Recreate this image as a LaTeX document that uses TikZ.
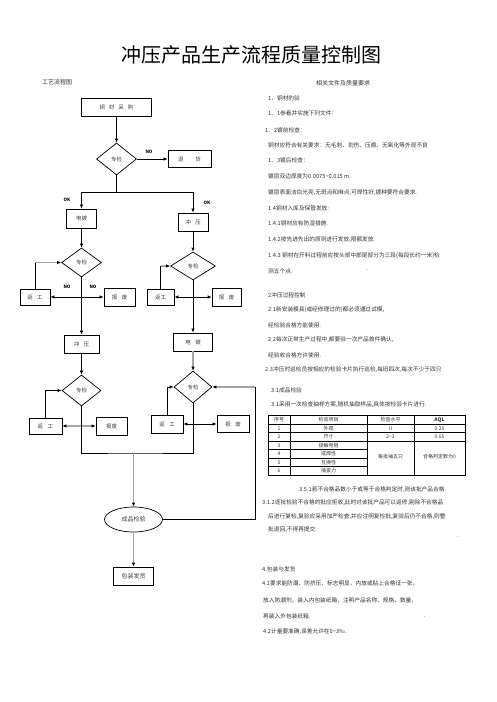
\documentclass[tikz,border=0pt]{standalone}
\usepackage{fontspec}
\setmainfont{Noto Sans CJK SC}
\usetikzlibrary{shapes.geometric,arrows.meta}

\newcommand{\bxsp}{\hspace{4.5pt}}

\tikzset{
  box/.style={draw, line width=0.8pt, inner sep=0pt, font=\fontsize{5.5}{6}\selectfont, text=black!75},
  chk/.style={diamond, draw, line width=0.7pt, inner sep=0pt, minimum width=40pt, minimum height=30pt, font=\fontsize{5.5}{6}\selectfont, text=black!75},
  flow/.style={line width=0.7pt, -{Latex[length=4pt,width=3.5pt]}},
  dflow/.style={line width=0.7pt, {Latex[length=4pt,width=3.5pt]}-{Latex[length=4pt,width=3.5pt]}},
  gflow/.style={draw=gray!70, line width=1.6pt, -{Latex[length=4pt,width=3.5pt,color=black]}},
  gdflow/.style={draw=gray!70, line width=1.6pt, {Latex[length=4pt,width=3.5pt,color=black]}-{Latex[length=4pt,width=3.5pt,color=black]}},
  thin line/.style={line width=0.7pt},
  tag/.style={font=\fontsize{4.5}{5}\selectfont\bfseries, inner sep=0pt},
  req/.style={anchor=west, inner sep=0pt, font=\fontsize{5.7}{7}\selectfont, text=black!80},
  cell/.style={inner sep=0pt, font=\fontsize{5}{6}\selectfont, text=black!80}
}

\begin{document}
\begin{tikzpicture}[x=1pt,y=-1pt]
	\useasboundingbox (0,0) rectangle (496,702);

	% Title and headings
	\node (title) at (251.5,55) {\fontsize{20}{24}\selectfont 冲压产品生产流程质量控制图};
	\node[inner sep=0pt, font=\fontsize{6}{7}\selectfont, text=black!80] (flowhead) at (57,82) {工艺流程图};
	\node[inner sep=0pt, font=\fontsize{6}{7}\selectfont, text=black!80] (reqhead) at (343,83) {相关文件及质量要求};

	% Flow chart: incoming check
	\node[box, minimum width=70pt, minimum height=18pt] (buy) at (116.5,107) {铜\hspace{4pt}材\hspace{4pt}采\hspace{4pt}购};
	\node[chk, minimum height=32pt] (chk1) at (116.5,159) {专检};
	\node[box, minimum width=43pt, minimum height=17pt] (ret) at (189.5,159) {退\hspace{12pt}货};
	\node[tag] (no1) at (149,152) {NO};
	\draw[flow] (buy) -- (chk1);
	\draw[flow] (chk1) -- (ret);

	%Split
	\coordinate (j1) at (116.5,192);
	\draw[thin line] (chk1.south) -- (j1);
	\node[box, minimum width=30pt, minimum height=19pt] (plate1) at (81.5,218.5) {电镀};
	\node[box, minimum width=30pt, minimum height=18pt] (press1) at (193,222) {冲\bxsp 压};
	\draw[flow] (j1) -| (plate1);
	\draw[flow] (j1) -| (press1);
	\node[tag] (ok1) at (67,200) {OK};
	\node[tag] (ok2) at (207,203) {OK};

	% Second checks
	\node[chk, minimum height=29pt] (chk2L) at (81.5,262.5) {专检};
	\node[chk, minimum width=45pt, minimum height=28pt] (chk2R) at (193,266) {专检};
	\draw[flow] (plate1) -- (chk2L);
	\draw[flow] (press1) -- (chk2R);

	\node[box, minimum width=30pt, minimum height=16pt] (rw2L) at (35,297) {返\bxsp 工};
	\node[box, minimum width=31pt, minimum height=18pt] (sc2L) at (119.5,297) {报\bxsp 废};
	\node[tag] (no2) at (67,287) {NO};
	\node[tag] (no3) at (93,287) {NO};
	\draw[dflow] (rw2L) -- (sc2L);
	\coordinate (f2L) at (rw2L.north |- chk2L.west);
	\draw[thin line] (rw2L.north) -- (f2L);
	\draw[gflow] (f2L) -- (chk2L.west);

	\node[box, minimum width=27pt, minimum height=16pt] (rw2R) at (160.5,297) {返工};
	\node[box, minimum width=29pt, minimum height=18pt] (sc2R) at (226.5,297) {报\bxsp 废};
	\draw[dflow] (rw2R) -- (sc2R);
	\coordinate (f2R) at (rw2R.north |- chk2R.west);
	\draw[thin line] (rw2R.north) -- (f2R);
	\draw[gflow] (f2R) -- (chk2R.west);

	% Third step
	\node[box, minimum width=35pt, minimum height=18pt] (press2) at (81.5,344) {冲\bxsp 压};
	\node[box, minimum width=39pt, minimum height=18pt] (plate2) at (193,342) {电\bxsp 镀};
	\draw[flow] (chk2L) -- (press2);
	\draw[flow] (chk2R) -- (plate2);

	\node[chk, minimum width=39pt, minimum height=31pt] (chk3L) at (81.5,390.5) {专检};
	\node[chk, minimum width=38pt, minimum height=32pt] (chk3R) at (193,387) {专检};
	\draw[flow] (press2) -- (chk3L);
	\draw[gflow] (plate2) -- (chk3R);

	\node[box, minimum width=33pt, minimum height=16pt] (rw3L) at (45.5,426) {返\bxsp 工};
	\node[box, minimum width=31pt, minimum height=18pt] (sc3L) at (111.5,426) {报废};
	\draw[gdflow] (rw3L) -- (sc3L);
	\draw[flow] (rw3L.north) |- (chk3L.west);

	\node[box, minimum width=32pt, minimum height=18pt] (rw3R) at (167,424) {返\bxsp 工};
	\node[box, minimum width=32pt, minimum height=17pt] (sc3R) at (233,424) {报\bxsp 废};
	\draw[dflow] (rw3R) -- (sc3R);
	\draw[flow] (rw3R.north) |- (chk3R.west);

	% Final inspection
	\coordinate (j2) at (133.5,453);
	\draw[thin line] (chk3L.south) |- (j2) -| (chk3R.south);
	\node[ellipse, draw, line width=0.7pt, inner sep=0pt, minimum width=58pt, minimum height=25pt, font=\fontsize{6}{7}\selectfont, text=black!75] (final) at (133.5,519.5) {成品检验};
	\node[box, minimum width=40pt, minimum height=18pt, font=\fontsize{6}{7}\selectfont] (pack) at (133.5,576) {包装发货};
	\draw[gflow] (j2) -- (final);
	\draw[gflow] (final) -- (pack);
	\coordinate (f3) at (255,519.5);
	\coordinate (f3t) at (255,387);
	\draw[thin line] (final.east) -- (f3) -- (f3t);
	\draw[gflow] (f3t) -- (chk3R.east);

	% Requirements text
	\node[req] (r1) at (268,98) {1．铜材豹验};
	\node[req] (r2) at (268,113) {1．1参看并实施下列文件：};
	\node[req] (r3) at (265,130) {1．2镀前检查：};
	\node[req] (r4) at (268,145) {铜材应符合有关要求：无毛刺、划伤、压痕、无氧化等外观不良};
	\node[req] (r5) at (268,160) {1．3镀后检查：};
	\node[req] (r6) at (268,176) {镀层双边厚度为0.0075\textasciitilde 0.015 m.};
	\node[req] (r7) at (268,193) {镀层表面洁白光亮,无斑点和麻点,可焊性好,镀种要符合要求.};
	\node[req] (r8) at (268,208) {1.4铜材入库及保管发放:};
	\node[req] (r9) at (268,223) {1.4.1铜材应有防湿措施.};
	\node[req] (r10) at (268,240) {1.4.2按先进先出的原则进行发放,限额发放.};
	\node[req] (r11) at (268,256) {1.4.3 铜材在开料过程前应按头部中部尾部分为三段(每段长约一米)检};
	\node[req] (r12) at (268,271) {测五个点.};
	\node[req] (d1) at (367,270) {.};

	\node[req] (r13) at (268,295) {2冲压过程控制};
	\node[req] (r14) at (268,310) {2.1新安装模具(或经修理过的)都必须通过试模,};
	\node[req] (r15) at (268,325) {经检验合格方能使用.};
	\node[req] (r16) at (268,340) {2.2每次正常生产过程中,都要验一次产品首件确认,};
	\node[req] (r17) at (268,355) {经验收合格方许使用.};
	\node[req] (r18) at (265,370) {2.3冲压时巡检员按相应的检验卡片执行巡检,每班四次,每次不少于四只};
	\node[req] (r19) at (271,390) {3.1成品检验};
	\node[req] (r20) at (271,405) {3.1采用一次检查抽样方案,随机抽取样品,具体按检验卡片进行.};

	% Sampling table
	\draw[line width=0.8pt] (268,415.5) rectangle (465,475);
	\foreach \yy in {424,432.5,441}
		\draw[line width=0.4pt] (268,\yy) -- (465,\yy);
	\foreach \yy in {449.5,458,466.5}
		\draw[line width=0.4pt] (268,\yy) -- (367,\yy);
	\foreach \xx in {290,367,414}
		\draw[line width=0.4pt] (\xx,415.5) -- (\xx,475);
	\node[cell] (hno) at (279,419.75) {序号};
	\node[cell] (hitem) at (328.5,419.75) {检验项目};
	\node[cell] (hlevel) at (390.5,419.75) {检查水平};
	\node[cell, font=\fontsize{5}{6}\selectfont\bfseries] (haql) at (439.5,419.75) {AQL};
	\foreach \n/\item [count=\i] in {1/外观,2/尺寸,3/接触电阻,4/或焊性,5/互换性,6/插拔力}
	{
		\node[cell] (no\i) at (279,{419.75+8.5*\i}) {\n};
		\node[cell] (item\i) at (328.5,{419.75+8.5*\i}) {\item};
	}
	\node[cell] (lv1) at (390.5,428.25) {Ⅱ};
	\node[cell] (lv2) at (390.5,436.75) {2\textasciitilde 3};
	\node[cell] (aql1) at (439.5,428.25) {0.25};
	\node[cell] (aql2) at (439.5,436.75) {0.65};
	\node[cell] (lv3) at (390.5,457) {每批抽五只};
	\node[cell] (aql3) at (439.5,457) {合格判定数为0};

	\node[req] (r21) at (299,490) {3.5.1若不合格品数小于或等于合格判定时,则该批产品合格.};
	\node[req] (r22) at (262,503) {3.1.2逐批检验不合格的批应拒收,此时对该批产品可以返修,剔除不合格品};
	\node[req] (r23) at (268,517) {后进行复检,复验应采用加严检查,并应注明复检批,复验后仍不合格,则整};
	\node[req] (r24) at (268,530) {批退回,不得再提交.};
	\node[req] (d2) at (457,537) {.};

	\node[req] (r25) at (262,569) {4.包装与发货};
	\node[req] (r26) at (262,583) {4.1要求能防潮、防挤压、标志明显，内放或贴上合格证一张，};
	\node[req] (r27) at (263,600) {放入防潮剂，装入内包装纸箱，注明产品名称、规格、数量，};
	\node[req] (r28) at (263,616) {再装入外包装纸箱.};
	\node[req] (d3) at (424,617) {.};
	\node[req] (r29) at (263,632) {4.2计量要准确,误差允许在0\textasciitilde 3‰.};
\end{tikzpicture}
\end{document}
